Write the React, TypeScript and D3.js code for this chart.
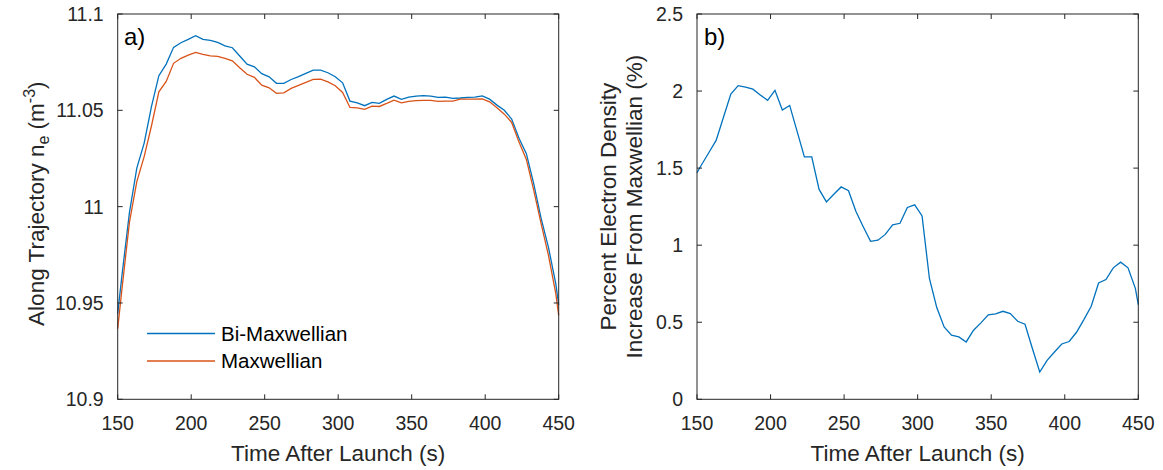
import * as d3 from "d3";
import { useRef, useEffect } from "react";

// sample times (s), shared by both panels
const times = [150, 153, 158, 163, 168, 173, 178, 183, 188, 193, 198, 203, 208, 213, 218, 223, 228, 233, 238, 243,
  248, 253, 258, 263, 268, 273, 278, 283, 288, 293, 298, 303, 308, 313, 318, 323, 328, 333, 338, 343,
  348, 353, 358, 363, 368, 373, 378, 383, 388, 393, 398, 403, 408, 413, 418, 423, 428, 433, 438, 443, 448, 450];

// log10 electron density along trajectory
const biMaxwellian = [10.9445, 10.965, 10.997, 11.020, 11.033, 11.052, 11.068, 11.074, 11.0827, 11.0851, 11.0868, 11.0887, 11.0868, 11.0863, 11.0853, 11.0835, 11.0825, 11.0782, 11.074, 11.0726,
  11.069, 11.0674, 11.064, 11.064, 11.066, 11.0675, 11.0692, 11.0709, 11.0709, 11.0695, 11.0674, 11.0643, 11.0548, 11.0539, 11.0524, 11.0541, 11.0536, 11.0557, 11.0574, 11.0557,
  11.0569, 11.0574, 11.0576, 11.0574, 11.0567, 11.0569, 11.0562, 11.0564, 11.0567, 11.0569, 11.0575, 11.0558, 11.0527, 11.050, 11.0455, 11.0355, 11.0275, 11.012, 10.994, 10.979, 10.960, 10.949];

const maxwellian = [10.9367, 10.958, 10.992, 11.013, 11.026, 11.042, 11.0596, 11.065, 11.0744, 11.077, 11.0787, 11.0801, 11.0791, 11.0783, 11.078, 11.077, 11.0757, 11.0721, 11.0687, 11.0671,
  11.0631, 11.0617, 11.0588, 11.0591, 11.0614, 11.063, 11.0645, 11.0661, 11.0662, 11.0648, 11.0628, 11.0593, 11.0515, 11.0513, 11.0505, 11.0522, 11.052, 11.0536, 11.0553, 11.0539,
  11.0546, 11.055, 11.0552, 11.0552, 11.0546, 11.0548, 11.0548, 11.0558, 11.0558, 11.0558, 11.0559, 11.0544, 11.0513, 11.048, 11.0437, 11.0335, 11.0245, 11.0086, 10.9913, 10.9748, 10.955, 10.9436];

// percent increase from Maxwellian
const percentIncrease = [1.47, 1.52, 1.60, 1.68, 1.83, 1.98, 2.035, 2.025, 2.012, 1.975, 1.94, 2.005, 1.877, 1.907, 1.74, 1.573, 1.573, 1.362, 1.281, 1.33,
  1.378, 1.353, 1.22, 1.12, 1.025, 1.032, 1.07, 1.132, 1.142, 1.245, 1.262, 1.19, 0.784, 0.595, 0.47, 0.416, 0.405, 0.372, 0.448, 0.496,
  0.548, 0.554, 0.571, 0.556, 0.506, 0.487, 0.33, 0.177, 0.253, 0.307, 0.359, 0.375, 0.435, 0.517, 0.604, 0.755, 0.777, 0.853, 0.890, 0.853, 0.72, 0.615];

const xTicks = [150, 200, 250, 300, 350, 400, 450];
const yTicksA = [10.9, 10.95, 11, 11.05, 11.1];
const yTicksB = [0, 0.5, 1, 1.5, 2, 2.5];
const seriesNames = ["Bi-Maxwellian", "Maxwellian"];

const W = 1163;
const H = 470;
const axisColor = "#262626";
const font = "'Liberation Sans', Arial, sans-serif";
const blue = "#0072BD";
const orange = "#D95319";
const tickFont = 19.5;
const labelFont = 22.5;

const panelA = { left: 117.7, right: 558.7, top: 14, bottom: 399.3 };
const panelB = { left: 697, right: 1138.3, top: 14, bottom: 399.3 };

function drawAxes(g, x, y, yTicks, box) {
  const tick = 5;
  g.append("rect")
    .attr("x", box.left).attr("y", box.top)
    .attr("width", box.right - box.left).attr("height", box.bottom - box.top)
    .attr("fill", "none").attr("stroke", axisColor).attr("stroke-width", 1);

  xTicks.forEach(t => {
    const px = x(t);
    g.append("line").attr("x1", px).attr("x2", px).attr("y1", box.bottom).attr("y2", box.bottom - tick)
      .attr("stroke", axisColor);
    g.append("line").attr("x1", px).attr("x2", px).attr("y1", box.top).attr("y2", box.top + tick)
      .attr("stroke", axisColor);
    g.append("text").attr("x", px).attr("y", box.bottom + 31)
      .attr("text-anchor", "middle").attr("font-size", tickFont).attr("fill", axisColor)
      .text(String(t));
  });

  yTicks.forEach(t => {
    const py = y(t);
    g.append("line").attr("x1", box.left).attr("x2", box.left + tick).attr("y1", py).attr("y2", py)
      .attr("stroke", axisColor);
    g.append("line").attr("x1", box.right).attr("x2", box.right - tick).attr("y1", py).attr("y2", py)
      .attr("stroke", axisColor);
    g.append("text").attr("x", box.left - 14).attr("y", py + 7)
      .attr("text-anchor", "end").attr("font-size", tickFont).attr("fill", axisColor)
      .text(String(t));
  });

  g.append("text")
    .attr("x", (box.left + box.right) / 2).attr("y", box.bottom + 62)
    .attr("text-anchor", "middle").attr("font-size", labelFont).attr("fill", axisColor)
    .text("Time After Launch (s)");
}

const App = () => {
  const chartRef = useRef(null);

  useEffect(() => {
    const svg = d3.select(chartRef.current);
    svg.selectAll("*").remove();
    svg.attr("font-family", font);

    // panel a
    const xA = d3.scaleLinear().domain([150, 450]).range([panelA.left, panelA.right]);
    const yA = d3.scaleLinear().domain([10.9, 11.1]).range([panelA.bottom, panelA.top]);
    const gA = svg.append("g");

    const lineA = (vals) => d3.line().x((d, i) => xA(times[i])).y(d => yA(d))(vals);
    gA.append("path").attr("d", lineA(biMaxwellian)).attr("fill", "none").attr("stroke", blue).attr("stroke-width", 1.3);
    gA.append("path").attr("d", lineA(maxwellian)).attr("fill", "none").attr("stroke", orange).attr("stroke-width", 1.3);
    drawAxes(gA, xA, yA, yTicksA, panelA);

    gA.append("text").attr("x", 124).attr("y", 45).attr("font-size", 24).attr("fill", "#000").text("a)");

    // legend
    [blue, orange].forEach((c, i) => {
      const ly = 333.5 + i * 27.5;
      gA.append("line").attr("x1", 147).attr("x2", 215).attr("y1", ly).attr("y2", ly)
        .attr("stroke", c).attr("stroke-width", 1.3);
      gA.append("text").attr("x", 221).attr("y", ly + 7).attr("font-size", 20.5).attr("fill", "#000")
        .text(seriesNames[i]);
    });

    const labA = gA.append("text")
      .attr("transform", `translate(44, ${(panelA.top + panelA.bottom) / 2 - 3}) rotate(-90)`)
      .attr("text-anchor", "middle").attr("font-size", labelFont).attr("fill", axisColor);
    labA.append("tspan").text("Along Trajectory n");
    labA.append("tspan").attr("font-size", 16).attr("dy", 5).text("e");
    labA.append("tspan").attr("dy", -5).text("  (m");
    labA.append("tspan").attr("font-size", 16).attr("dy", -9).text("-3");
    labA.append("tspan").attr("dy", 9).text(")");

    // panel b
    const xB = d3.scaleLinear().domain([150, 450]).range([panelB.left, panelB.right]);
    const yB = d3.scaleLinear().domain([0, 2.5]).range([panelB.bottom, panelB.top]);
    const gB = svg.append("g");
    const lineB = d3.line().x((d, i) => xB(times[i])).y(d => yB(d));
    gB.append("path").attr("d", lineB(percentIncrease)).attr("fill", "none").attr("stroke", blue).attr("stroke-width", 1.3);
    drawAxes(gB, xB, yB, yTicksB, panelB);

    gB.append("text").attr("x", 704).attr("y", 45).attr("font-size", 24).attr("fill", "#000").text("b)");

    const cy = (panelB.top + panelB.bottom) / 2;
    gB.append("text").attr("transform", `translate(616, ${cy}) rotate(-90)`)
      .attr("text-anchor", "middle").attr("font-size", labelFont).attr("fill", axisColor)
      .text("Percent Electron Density");
    gB.append("text").attr("transform", `translate(642, ${cy}) rotate(-90)`)
      .attr("text-anchor", "middle").attr("font-size", labelFont).attr("fill", axisColor)
      .text("Increase From Maxwellian (%)");
  }, []);

  return (
    <div style={{ position: "absolute", left: 0, top: 0, background: "#fff" }}>
      <svg ref={chartRef} width={W} height={H}></svg>
    </div>
  );
};

export default App;
